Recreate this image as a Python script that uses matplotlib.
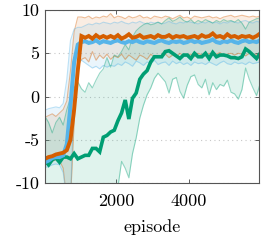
import numpy as np
import matplotlib
matplotlib.use("Agg")
import matplotlib.pyplot as plt

plt.rcParams["font.family"] = ["cmr10", "DejaVu Serif"]
plt.rcParams["axes.formatter.use_mathtext"] = True
plt.rcParams["axes.unicode_minus"] = False
plt.rcParams["mathtext.fontset"] = "cm"

# episodes (every 100, centred bins)
episodes = np.arange(50, 6000, 100)

# orange run: mean and envelope
orange_mean = [-7.2, -7.0, -6.9, -6.7, -6.6, -6.5, -6.2, -5.0, -1.5, 3.0,
               7.0, 6.8, 7.0, 6.7, 7.1, 6.8, 7.0, 6.8, 7.0, 6.8,
               7.1, 6.7, 6.9, 7.2, 6.8, 6.9, 7.1, 6.8, 6.9, 7.0,
               6.8, 7.1, 6.9, 6.9, 7.1, 6.8, 7.0, 6.9, 7.0, 6.8,
               6.9, 7.0, 6.8, 7.1, 6.9, 7.0, 7.3, 6.9, 7.0, 6.8,
               7.2, 6.9, 7.0, 6.8, 7.0, 6.9, 7.0, 6.8, 7.0, 7.3]
orange_hi = [-2.4, -2.2, -2.0, -2.3, -1.9, -1.5, -0.5, 3.0, 7.5, 9.2,
             9.2, 9.1, 9.3, 9.0, 9.2, 9.1, 9.3, 9.2, 9.6, 9.1,
             9.3, 9.2, 9.0, 9.3, 9.1, 9.2, 9.4, 9.1, 9.2, 9.0,
             9.3, 9.2, 9.1, 9.3, 9.2, 9.0, 9.2, 9.4, 9.1, 9.2,
             9.0, 9.3, 9.2, 9.1, 9.2, 9.3, 9.1, 9.2, 9.0, 9.2,
             9.3, 9.4, 9.2, 9.3, 9.4, 9.3, 9.2, 9.3, 9.2, 9.3]
orange_lo = [-7.8, -7.6, -7.5, -7.3, -7.4, -8.3, -12.0, -12.0, -3.0, 3.5,
             4.3, 4.5, 4.0, 5.2, 4.2, 4.8, 4.4, 4.9, 4.3, 4.7,
             4.5, 4.9, 4.3, 4.8, 4.5, 4.2, 4.8, 4.6, 4.3, 4.9,
             4.5, 4.7, 4.6, 4.9, 4.5, 4.8, 4.6, 5.0, 4.7, 4.8,
             4.9, 4.6, 5.0, 4.8, 4.7, 5.0, 4.8, 4.9, 5.1, 4.7,
             4.9, 5.0, 4.8, 5.0, 4.9, 4.7, 5.0, 4.9, 4.8, 5.0]

# blue run
blue_mean = [-7.6, -7.4, -7.1, -7.0, -7.0, -6.8, -5.5, -1.0, 4.0, 6.0,
             6.3, 6.4, 6.2, 6.3, 6.5, 6.2, 6.4, 6.3, 6.2, 6.4,
             6.5, 6.3, 6.2, 6.4, 6.3, 6.5, 6.3, 6.2, 6.4, 6.3,
             6.2, 6.4, 6.5, 6.3, 6.2, 6.4, 6.3, 6.4, 6.2, 6.3,
             6.5, 6.3, 6.4, 6.2, 6.3, 6.4, 6.6, 6.3, 6.2, 6.4,
             6.3, 6.5, 6.3, 6.2, 6.4, 6.5, 6.3, 6.4, 6.3, 6.5]
blue_hi = [-1.6, -1.4, -1.3, -1.2, -1.3, -0.8, 2.0, 6.5, 7.8, 8.0,
           8.0, 8.2, 8.4, 8.3, 8.5, 8.4, 8.6, 8.5, 8.4, 8.6,
           8.5, 8.7, 8.5, 8.4, 8.6, 8.5, 8.7, 8.5, 8.4, 8.6,
           8.5, 8.6, 8.4, 8.5, 8.7, 8.5, 8.4, 8.6, 8.5, 8.7,
           8.6, 8.5, 8.4, 8.6, 8.5, 8.7, 8.5, 8.6, 8.4, 8.6,
           8.5, 8.7, 8.6, 8.5, 8.7, 8.8, 8.6, 8.5, 8.7, 8.6]
blue_lo = [-8.2, -8.1, -7.9, -7.8, -7.9, -8.8, -12.0, -12.0, 0.5, 4.0,
           4.2, 3.9, 3.6, 3.3, 3.5, 3.2, 3.6, 3.4, 3.6, 3.5,
           3.8, 3.6, 4.0, 3.8, 3.5, 4.1, 3.9, 3.6, 4.0, 3.8,
           4.2, 3.7, 3.9, 4.0, 3.6, 4.1, 3.8, 4.0, 3.7, 3.9,
           3.6, 4.0, 3.8, 3.9, 3.7, 4.0, 3.8, 3.6, 3.9, 4.1,
           3.8, 3.7, 4.0, 3.8, 3.9, 3.7, 4.0, 3.8, 3.9, 4.0]

# green run
green_mean = [-7.4, -7.9, -7.3, -7.1, -7.6, -7.0, -7.0, -7.2, -6.6, -7.2,
              -7.0, -6.8, -6.8, -6.0, -6.0, -6.4, -4.7, -4.5, -4.1, -3.9,
              -2.8, -1.9, -0.4, -2.6, -0.2, 0.4, 2.0, 2.6, 3.0, 4.0,
              4.6, 4.6, 4.6, 5.2, 5.3, 5.0, 4.7, 4.4, 4.8, 4.8,
              4.4, 5.0, 4.6, 4.6, 5.0, 4.4, 5.1, 4.6, 4.8, 4.8,
              4.7, 4.5, 4.5, 4.4, 4.6, 5.5, 5.2, 4.8, 4.4, 5.0]
green_hi = [-2.3, -3.0, -4.2, -3.0, -2.4, -3.3, -1.5, -0.2, 1.0, 1.7,
            0.9, 0.5, 1.6, 1.0, 1.9, 2.7, 3.2, 4.5, 3.4, 4.8,
            4.6, 5.2, 6.0, 5.4, 6.9, 7.6, 8.0, 8.3, 8.5, 8.3,
            8.4, 8.6, 8.4, 8.8, 9.1, 8.7, 8.9, 9.2, 8.8, 8.6,
            8.9, 8.5, 8.8, 8.6, 8.9, 8.7, 8.5, 8.8, 8.6, 8.9,
            8.7, 8.8, 8.6, 8.9, 8.5, 7.8, 8.6, 8.8, 9.0, 9.1]
green_lo = [-12.0, -12.0, -12.0, -12.0, -12.0, -12.0, -12.0, -12.0, -12.0, -12.0,
            -12.0, -12.0, -12.0, -12.0, -12.0, -12.0, -12.0, -12.0, -12.0, -12.0,
            -10.5, -7.5, -8.3, -9.4, -6.6, -4.8, -2.5, -1.0, 0.2, 1.0,
            2.1, 2.7, 2.2, 1.7, 0.4, 2.0, 2.2, 0.6, -0.2, 1.3,
            2.3, 2.5, 1.4, 1.0, 2.0, 0.2, 1.6, 0.8, 1.4, 1.2,
            1.9, 0.5, 0.3, -0.3, 0.8, 3.3, 2.0, 1.0, 0.1, 1.5]

ORANGE = "#D55E00"
BLUE = "#56B4E9"
GREEN = "#009E73"

fig = plt.figure(figsize=(2.66, 2.40), dpi=100)
ax = fig.add_axes([0.169, 0.2375, 0.805, 0.7205])

bands = [(orange_lo, orange_hi, ORANGE, 0.11), (blue_lo, blue_hi, BLUE, 0.12),
         (green_lo, green_hi, GREEN, 0.12)]
# shaded envelopes first, then their thin edge lines
for lo, hi, col, a in bands:
    ax.fill_between(episodes, lo, hi, color=col, alpha=a, lw=0)
for lo, hi, col, a in bands:
    ax.plot(episodes, lo, color=col, alpha=0.4, lw=0.8)
    ax.plot(episodes, hi, color=col, alpha=0.4, lw=0.8)

ax.plot(episodes, green_mean, color=GREEN, lw=2.6, solid_joinstyle="miter")
ax.plot(episodes, blue_mean, color=BLUE, lw=2.9, solid_joinstyle="miter")
ax.plot(episodes, orange_mean, color=ORANGE, lw=2.8, solid_joinstyle="miter")

ax.set_xlim(50, 5920)
ax.set_ylim(-10, 10)
ax.set_xticks([2000, 4000])
ax.set_yticks([-10, -5, 0, 5, 10])
ax.set_xticklabels(["2000", "4000"])
ax.set_yticklabels(["-10", "-5", "0", "5", "10"])
ax.yaxis.grid(True, linestyle=(0, (1, 3)), color="#c8c8c8", lw=0.8)
ax.set_axisbelow(True)

ax.tick_params(direction="in", top=True, right=True, length=3, width=0.6,
               color="#444444", labelsize=13)
ax.tick_params(axis="x", pad=8)
ax.tick_params(axis="y", pad=4)
for s in ax.spines.values():
    s.set_color("#555555")
    s.set_linewidth(0.8)

ax.set_xlabel("episode", fontsize=13, labelpad=7)

fig.savefig("out.png", dpi=100)
